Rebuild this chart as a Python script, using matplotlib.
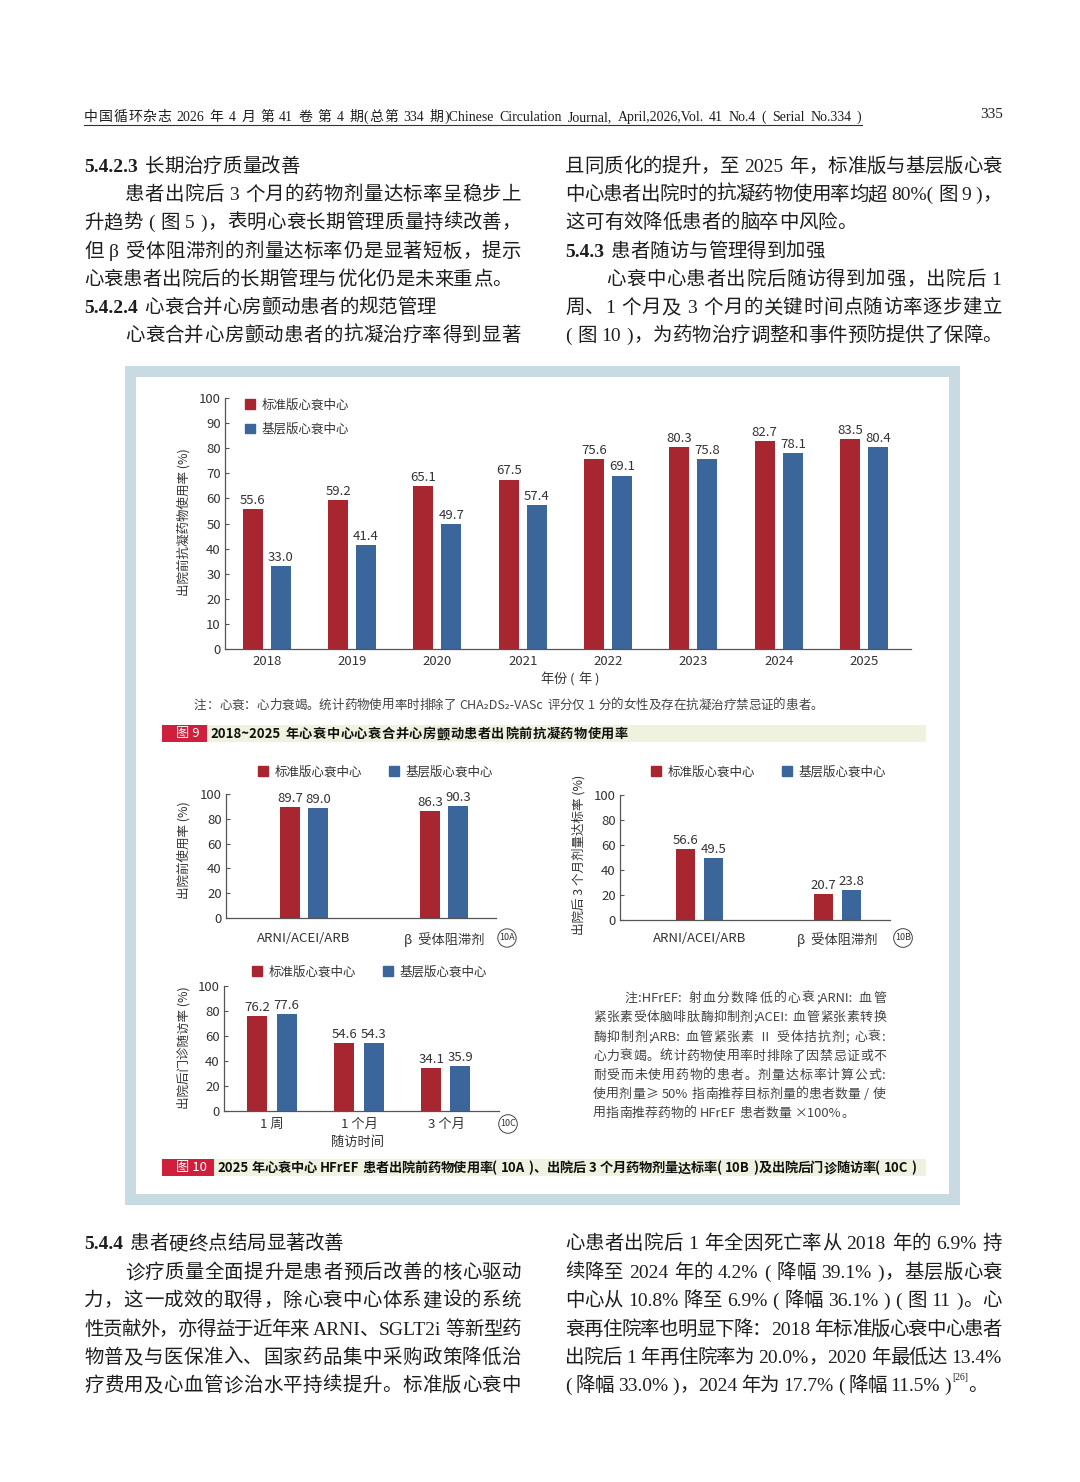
import re
import numpy as np
import matplotlib
matplotlib.use('Agg')
import matplotlib.pyplot as plt
from matplotlib.patches import Rectangle, Patch
from matplotlib.lines import Line2D

W, H = 1080, 1482
RED = '#a8262f'
BLUE = '#3b669c'
AXIS = '#555555'
INK = '#333333'
BODY = '#1e1e1e'
FRAME = '#c8dae2'

SERIF = ['Liberation Serif', 'Noto Sans CJK SC']
SANS = ['Noto Sans CJK SC', 'DejaVu Sans']
NUM = ['Liberation Sans Narrow', 'Noto Sans CJK SC']

# ---- chart data ----
series_names = ['标准版心衰中心', '基层版心衰中心']

years = ['2018', '2019', '2020', '2021', '2022', '2023', '2024', '2025']
std_anticoag = [55.6, 59.2, 65.1, 67.5, 75.6, 80.3, 82.7, 83.5]
base_anticoag = [33.0, 41.4, 49.7, 57.4, 69.1, 75.8, 78.1, 80.4]

drug_classes = ['ARNI/ACEI/ARB', 'β  受体阻滞剂']
std_use = [89.7, 86.3]
base_use = [89.0, 90.3]
std_dose = [56.6, 20.7]
base_dose = [49.5, 23.8]

visit_times = ['1 周', '1 个月', '3 个月']
std_visit = [76.2, 54.6, 34.1]
base_visit = [77.6, 54.3, 35.9]

ticks_9 = [0, 10, 20, 30, 40, 50, 60, 70, 80, 90, 100]
ticks_10 = [0, 20, 40, 60, 80, 100]

# ---- page text ----
header = '中国循环杂志 2026 年 4 月 第 41 卷 第 4 期(总第 334 期)Chinese Circulation Journal, April,2026,Vol. 41 No.4 ( Serial No.334 )'
page_no = '335'

top_left = [
    ('head', '5.4.2.3', '长期治疗质量改善'),
    ('indent', '患者出院后 3 个月的药物剂量达标率呈稳步上'),
    ('full', '升趋势 ( 图 5 )，表明心衰长期管理质量持续改善，'),
    ('full', '但 β 受体阻滞剂的剂量达标率仍是显著短板，提示'),
    ('last', '心衰患者出院后的长期管理与优化仍是未来重点。'),
    ('head', '5.4.2.4', '心衰合并心房颤动患者的规范管理'),
    ('indent', '心衰合并心房颤动患者的抗凝治疗率得到显著'),
]
top_right = [
    ('full', '且同质化的提升，至 2025 年，标准版与基层版心衰'),
    ('full', '中心患者出院时的抗凝药物使用率均超 80%( 图 9 )，'),
    ('last', '这可有效降低患者的脑卒中风险。'),
    ('head', '5.4.3', '患者随访与管理得到加强'),
    ('indent', '心衰中心患者出院后随访得到加强，出院后 1'),
    ('full', '周、1 个月及 3 个月的关键时间点随访率逐步建立'),
    ('full', '( 图 10 )，为药物治疗调整和事件预防提供了保障。'),
]
bottom_left = [
    ('head', '5.4.4', '患者硬终点结局显著改善'),
    ('indent', '诊疗质量全面提升是患者预后改善的核心驱动'),
    ('full', '力，这一成效的取得，除心衰中心体系建设的系统'),
    ('full', '性贡献外，亦得益于近年来 ARNI、SGLT2i 等新型药'),
    ('full', '物普及与医保准入、国家药品集中采购政策降低治'),
    ('full', '疗费用及心血管诊治水平持续提升。标准版心衰中'),
]
bottom_right = [
    ('full', '心患者出院后 1 年全因死亡率从 2018 年的 6.9% 持'),
    ('full', '续降至 2024 年的 4.2% ( 降幅 39.1% )，基层版心衰'),
    ('full', '中心从 10.8% 降至 6.9% ( 降幅 36.1% ) ( 图 11 )。心'),
    ('full', '衰再住院率也明显下降：2018 年标准版心衰中心患者'),
    ('full', '出院后 1 年再住院率为 20.0%，2020 年最低达 13.4%'),
    ('ref', '( 降幅 33.0% )，2024 年为 17.7% ( 降幅 11.5% )'),
]

note_9 = '注：心衰：心力衰竭。统计药物使用率时排除了 CHA₂DS₂-VASc 评分仅 1 分的女性及存在抗凝治疗禁忌证的患者。'
caption_9 = '2018~2025 年心衰中心心衰合并心房颤动患者出院前抗凝药物使用率'
note_10 = [
    '注:HFrEF: 射血分数降低的心衰;ARNI: 血管',
    '紧张素受体脑啡肽酶抑制剂;ACEI: 血管紧张素转换',
    '酶抑制剂;ARB: 血管紧张素 Ⅱ 受体拮抗剂; 心衰:',
    '心力衰竭。统计药物使用率时排除了因禁忌证或不',
    '耐受而未使用药物的患者。剂量达标率计算公式:',
    '使用剂量≥ 50% 指南推荐目标剂量的患者数量 / 使',
    '用指南推荐药物的 HFrEF 患者数量 ×100%。',
]
caption_10 = '2025 年心衰中心 HFrEF 患者出院前药物使用率( 10A )、出院后 3 个月药物剂量达标率( 10B )及出院后门诊随访率( 10C )'


fig = plt.figure(figsize=(W / 100, H / 100), dpi=100)
fig.patch.set_facecolor('white')
renderer = fig.canvas.get_renderer()


def fx(x):
    return x / W


def fy(y):
    return 1 - y / H


def px_axes(left, top, right, bottom):
    return fig.add_axes([fx(left), fy(bottom), (right - left) / W, (bottom - top) / H])


def px_rect(left, top, right, bottom, color, z=-5):
    fig.add_artist(Rectangle((fx(left), fy(bottom)), (right - left) / W, (bottom - top) / H,
                             transform=fig.transFigure, facecolor=color, edgecolor='none', zorder=z))


def text_width(s, size, family, weight):
    t = fig.text(0, 0, s, fontsize=size, family=family, fontweight=weight)
    w = t.get_window_extent(renderer).width
    t.remove()
    return w


def put_line(s, x0, y, x1=None, size=14, family=SERIF, weight='normal', color=BODY):
    """
    Draws one line of text token by token, so that it can be justified between x0 and x1
    y is the vertical centre of a CJK glyph, in pixels from the top
    """
    em = size * 100 / 72
    tokens = re.findall(r'\s+|[^\s\u3000-\uffff]+|.', s)
    widths = []
    for tok in tokens:
        if tok.isspace():
            widths.append(0.25 * em)
        elif len(tok) == 1 and ord(tok) >= 0x3000:
            widths.append(em)
        else:
            widths.append(text_width(tok, size, family, weight) + 0.04 * em)
    gap = 0.0
    if x1 is not None and len(tokens) > 1:
        gap = (x1 - x0 - sum(widths)) / (len(tokens) - 1)
    base = y + 0.36 * em
    x = x0
    for tok, w in zip(tokens, widths):
        if not tok.isspace():
            fig.text(fx(x), fy(base), tok, fontsize=size, family=family, fontweight=weight,
                     color=color, ha='left', va='baseline')
        x += w + gap
    return x


def put_column(lines, x0, x1, ys):
    for line, y in zip(lines, ys):
        kind = line[0]
        if kind == 'head':
            end = put_line(line[1], x0, y, weight='bold')
            put_line(line[2], end + 6, y)
        elif kind == 'indent':
            put_line(line[1], x0 + 41, y, x1)
        elif kind == 'full':
            put_line(line[1], x0, y, x1)
        elif kind == 'last':
            put_line(line[1], x0, y)
        elif kind == 'ref':
            end = put_line(line[1], x0, y, x1 - 50)
            fig.text(fx(end + 1), fy(y - 6), '[26]', fontsize=7, family=SERIF, color=BODY,
                     ha='left', va='center')
            put_line('。', end + 17, y)


def bar_panel(ax, labels, std_vals, base_vals, off, width, xlim, yticks, xpad, xsize=9.5):
    x = np.arange(len(labels))
    ax.bar(x - off, std_vals, width, color=RED, zorder=2)
    ax.bar(x + off, base_vals, width, color=BLUE, zorder=2)
    for xs, vals in ((x - off, std_vals), (x + off, base_vals)):
        for xi, v in zip(xs, vals):
            ax.annotate(f'{v:.1f}', (xi, v), xytext=(0, 1.5), textcoords='offset points',
                        ha='center', va='bottom', fontsize=9.5, family=NUM, color=INK)
    ax.set_xlim(*xlim)
    ax.set_ylim(0, 100)
    ax.set_yticks(yticks, [str(t) for t in yticks], fontsize=9.5, family=NUM, color=INK)
    ax.set_xticks(x, labels, fontsize=xsize, family=SANS, color=INK)
    ax.tick_params(axis='y', direction='in', length=3, width=0.8, color=AXIS, pad=3)
    ax.tick_params(axis='x', length=0, pad=xpad)
    for s in ('top', 'right'):
        ax.spines[s].set_visible(False)
    for s in ('left', 'bottom'):
        ax.spines[s].set_color(AXIS)
        ax.spines[s].set_linewidth(0.9)
    ax.set_facecolor('none')


def add_legend(ax, x, y, ncol):
    handles = [Patch(color=RED), Patch(color=BLUE)]
    ax.legend(handles, series_names, loc='center left', bbox_to_anchor=(fx(x), fy(y)),
              bbox_transform=fig.transFigure, ncol=ncol, frameon=False,
              prop={'family': SANS, 'size': 9}, labelcolor=INK,
              handlelength=0.8, handleheight=0.8, handletextpad=0.5,
              columnspacing=2.2, labelspacing=0.9, borderpad=0, borderaxespad=0)


def panel_tag(x, y, s):
    fig.text(fx(x), fy(y), s, fontsize=6.5, family=NUM, color=INK, ha='center', va='center',
             bbox=dict(boxstyle='circle,pad=0.15', fc='white', ec='#444444', lw=0.7))


def y_title(x, y, s):
    fig.text(fx(x), fy(y), s, rotation=90, fontsize=9, family=SANS, color=INK,
             ha='center', va='center')


def caption(top, bottom, box_right, text_right, tag, s):
    px_rect(162, top, box_right, bottom, '#cf1f3c', z=-3)
    px_rect(box_right, top, 926, bottom, '#eef2df', z=-3)
    fig.text(fx((162 + box_right) / 2 + 3), fy((top + bottom) / 2), tag, fontsize=9.5,
             family=SANS, color='white', ha='center', va='center')
    put_line(s, box_right + 3, (top + bottom) / 2, text_right, size=9.5, family=SANS,
             weight='bold', color='#111111')


# ---- page header ----
put_line(header, 84, 116, 862, size=10)
fig.add_artist(Line2D([fx(84), fx(862)], [fy(125), fy(125)], color='#333333', lw=0.8))
fig.text(fx(1003), fy(114), page_no, fontsize=11, family=SERIF, color=BODY, ha='right', va='center')

# ---- body text ----
top_ys = [165, 193, 221, 250, 278, 306, 334]
put_column(top_left, 84, 521, top_ys)
put_column(top_right, 565, 1002, top_ys)
bottom_ys = [1242, 1271, 1299, 1328, 1356, 1384]
put_column(bottom_left, 84, 521, bottom_ys)
put_column(bottom_right, 565, 1002, bottom_ys)

# ---- figure frame ----
px_rect(125, 366, 960, 1205, FRAME, z=-6)
px_rect(136, 377, 949, 1194, 'white', z=-5)

# ---- figure 9 ----
ax9 = px_axes(225, 398, 911, 649)
bar_panel(ax9, years, std_anticoag, base_anticoag, 0.164, 0.234, (-0.49, 7.55), ticks_9, 4.3)
add_legend(ax9, 245, 417, 1)
y_title(184, 522, '出院前抗凝药物使用率 (%)')
put_line('年份 ( 年 )', 540, 678, size=9.5, family=SANS, color=INK)
put_line(note_9, 194, 704, size=9, family=SANS, color='#444444')
caption(725, 742, 207, 628, '图 9', caption_9)

# ---- figure 10A ----
ax_a = px_axes(226, 794, 496, 918)
bar_panel(ax_a, drug_classes, std_use, base_use, 0.1, 0.143, (-0.557, 1.371), ticks_10, 10)
add_legend(ax_a, 258, 772, 2)
y_title(184, 850, '出院前使用率 (%)')
panel_tag(507, 938, '10A')

# ---- figure 10B ----
ax_b = px_axes(620, 795, 890, 920)
bar_panel(ax_b, drug_classes, std_dose, base_dose, 0.101, 0.138, (-0.576, 1.38), ticks_10, 8.6)
add_legend(ax_b, 651, 772, 2)
y_title(579, 855, '出院后 3 个月剂量达标率 (%)')
panel_tag(903, 938, '10B')

# ---- figure 10C ----
ax_c = px_axes(224, 986, 499, 1111)
bar_panel(ax_c, visit_times, std_visit, base_visit, 0.167, 0.23, (-0.552, 2.61), ticks_10, 5)
add_legend(ax_c, 252, 972, 2)
y_title(184, 1048, '出院后门诊随访率 (%)')
fig.text(fx(357), fy(1142), '随访时间', fontsize=9.5, family=SANS, color=INK, ha='center', va='center')
panel_tag(508, 1124, '10C')

note_ys = [997, 1016, 1036, 1055, 1074, 1093, 1112]
for i, (line, y) in enumerate(zip(note_10, note_ys)):
    if i == 0:
        put_line(line, 624, y, 886, size=9.3, family=SANS, color='#444444')
    elif i == len(note_10) - 1:
        put_line(line, 593, y, size=9.3, family=SANS, color='#444444')
    else:
        put_line(line, 593, y, 886, size=9.3, family=SANS, color='#444444')

caption(1159, 1176, 214, 917, '图 10', caption_10)

fig.savefig('out.png', dpi=100, facecolor='white')
